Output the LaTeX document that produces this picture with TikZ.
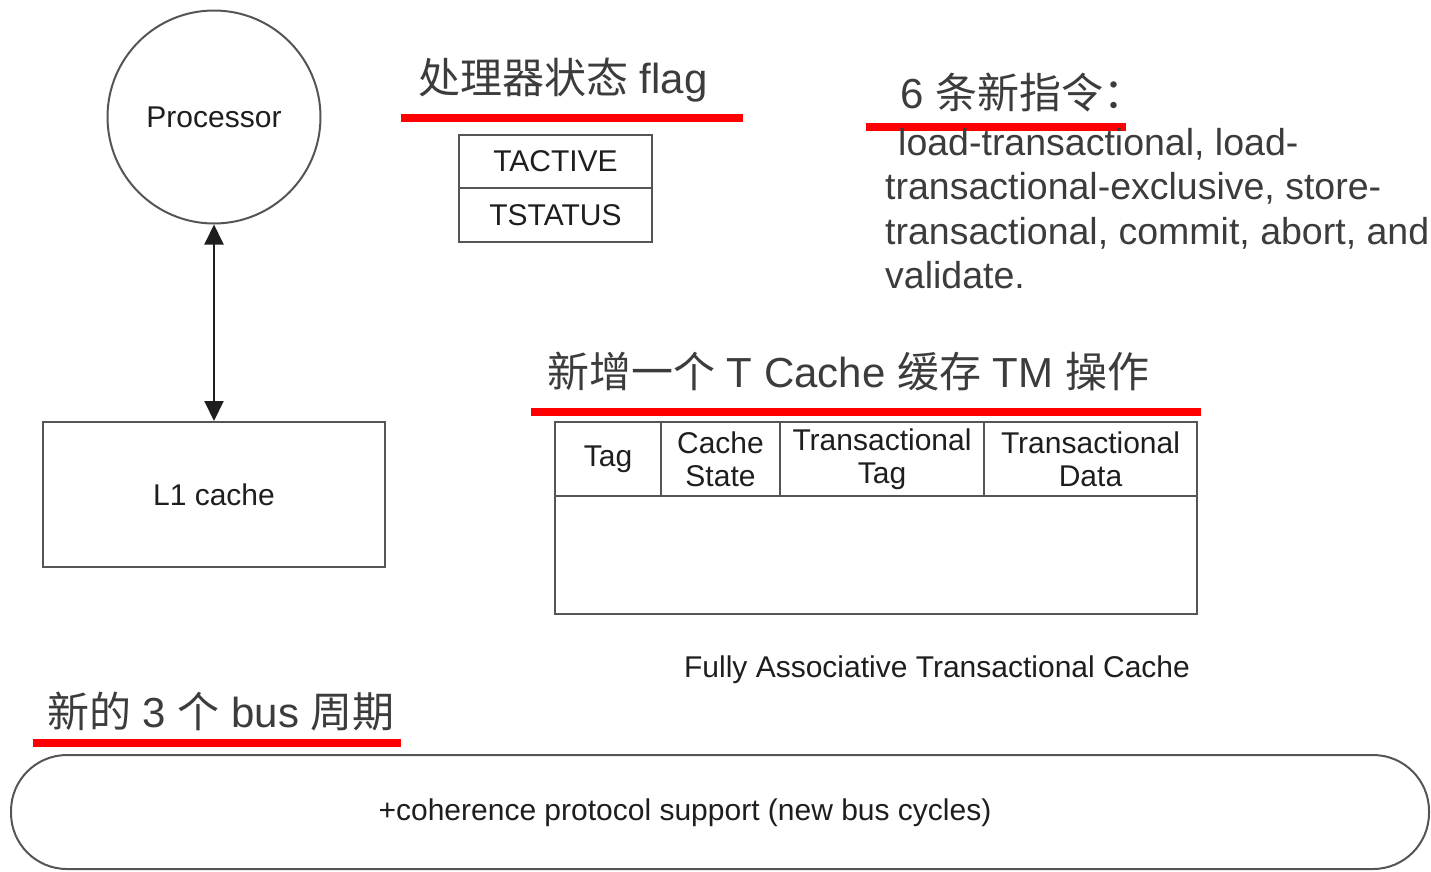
\documentclass[tikz,border=0pt]{standalone}
\usepackage{fontspec}
\setmainfont{Liberation Sans}
\newfontfamily\cjk{Noto Sans CJK SC}
\usetikzlibrary{arrows.meta}
\definecolor{ink}{HTML}{1E1E1E}
\definecolor{notecol}{HTML}{3C3C3C}
\definecolor{edgecol}{HTML}{555555}
\definecolor{markcol}{HTML}{FF0000}
\begin{document}
\begin{tikzpicture}[x=1pt,y=-1pt,
  box/.style={draw=edgecol,line width=2pt,inner sep=0,text=ink,font=\fontsize{30}{33}\selectfont},
  lbl/.style={text=ink,inner sep=0,font=\fontsize{30}{33}\selectfont},
  notetext/.style={text=notecol,inner sep=0,font=\fontsize{42}{50}\selectfont},
  para/.style={text=notecol,inner sep=0,font=\fontsize{37.5}{44.5}\selectfont},
  redline/.style={draw=markcol,line width=7.5pt},
  tip/.tip={Triangle[length=20pt,width=19pt]}]
\useasboundingbox (0,0) rectangle (1431,871);

% processor and L1 cache
\node[box,circle,minimum size=213pt] (proc) at (214,117) {Processor};
\node[box,minimum width=342pt,minimum height=145pt] (l1) at (214,494.5) {L1 cache};
\draw[draw=ink,line width=2pt,tip-tip] (proc.south) -- (l1.north);

% processor status flags
\node[notetext,anchor=base west] (flagt) at (418,93) {{\cjk 处理器状态} flag};
\draw[redline] (401,118) -- (743,118);
\node[box,minimum width=193pt,minimum height=53pt] (tactive) at (555.5,161.5) {TACTIVE};
\node[box,minimum width=193pt,minimum height=54pt] (tstatus) at (555.5,215) {TSTATUS};

% new instructions
\node[notetext,anchor=base west] (instt) at (900,108) {6 {\cjk 条新指令：}};
\draw[redline] (866,127) -- (1126,127);
\node[para,anchor=base west] (instr) at (885,155) {\parbox[t]{560pt}{\raggedright
  \hspace*{13pt}load-transactional, load-\\
  transactional-exclusive, store-\\
  transactional, commit, abort, and\\
  validate.}};

% transactional cache
\node[notetext,anchor=base west] (tct) at (547,387) {{\cjk 新增一个} T Cache {\cjk 缓存} TM {\cjk 操作}};
\draw[redline] (531,412) -- (1201,412);
\node[box,minimum width=106pt,minimum height=74pt] (ctag) at (608,459) {Tag};
\node[box,minimum width=119pt,minimum height=74pt,align=center] (cstate) at (720.5,459) {Cache\\State};
\node[box,minimum width=204pt,minimum height=74pt,align=center] (cttag) at (882,459) {Transactional\\Tag};
\node[box,minimum width=213pt,minimum height=74pt,align=center] (ctdata) at (1090.5,459) {Transactional\\Data};
\node[box,minimum width=642pt,minimum height=118pt] (cbody) at (876,555) {};
\node[lbl,anchor=base] (ccap) at (937,677) {Fully Associative Transactional Cache};

% bus
\node[notetext,anchor=base west] (bust) at (47,727) {{\cjk 新的} 3 {\cjk 个} bus {\cjk 周期}};
\draw[redline] (33,743) -- (401,743);
\node[draw=edgecol,line width=2pt,rounded corners=56pt,minimum width=1418pt,minimum height=114pt,inner sep=0] (bus) at (720,812) {};
\node[lbl,anchor=base] (bustext) at (685,820) {+coherence protocol support (new bus cycles)};
\end{tikzpicture}
\end{document}
